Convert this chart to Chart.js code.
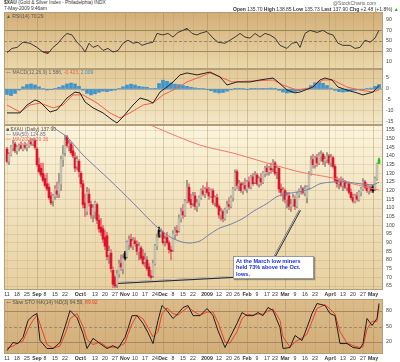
<!DOCTYPE html>
<html>
<head>
<meta charset="utf-8">
<script src="https://cdn.jsdelivr.net/npm/chart.js@4.4.1/dist/chart.umd.min.js"></script>
<style>
body { margin: 0; width: 400px; height: 362px; background: #fff; position: relative; overflow: hidden; font-family: "Liberation Sans", Arial, sans-serif; }
canvas { position: absolute; left: 0; }
.t { position: absolute; font-size: 5px; color: #333; white-space: nowrap; line-height: 1; z-index: 2; }
.note { position: absolute; left: 233px; top: 256px; width: 75px; height: 19px; background: #fff; border: 1px solid #9a9a9a; box-shadow: 1px 1px 1px rgba(0,0,0,0.35); color: #1b2fd6; font-weight: bold; font-size: 5.6px; line-height: 6.4px; padding: 1px 2px; box-sizing: content-box; z-index: 3; }
</style>
</head>
<body>
<div class="t" style="left:4px;top:1px;font-size:4.8px"><b>$XAU</b> (Gold &amp; Silver Index - Philadelphia) INDX</div>
<div class="t" style="left:4px;top:7px;font-size:4.8px">7-May-2009 9:46am</div>
<div class="t" style="left:333px;top:1px;color:#666">@StockCharts.com</div>
<div class="t" style="left:233px;top:7px"><b>Open</b> 135.70 <b>High</b> 138.85 <b>Low</b> 135.73 <b>Last</b> 137.90 <b>Chg</b> +2.48 (+1.8%) <span style="color:#2a2">&#9650;</span></div>

<canvas id="rsi" width="400" height="57" style="top:12px"></canvas>
<canvas id="macd" width="400" height="56" style="top:69px"></canvas>
<canvas id="price" width="400" height="174" style="top:125px"></canvas>
<canvas id="sto" width="400" height="63" style="top:299px"></canvas>

<div class="t" style="left:6px;top:14px;color:#555"><span style="color:#2a7a2a">&#9650;</span> RSI(14) 70.29</div>
<div class="t" style="left:6px;top:70px;color:#666">&#8212; MACD(12,26,9) 1.586, <span style="color:#e8604c">-0.423,</span> <span style="color:#3d8cc4">2.009</span></div>
<div class="t" style="left:6px;top:127px;color:#555">&#9632; $XAU (Daily) 137.90</div>
<div class="t" style="left:6px;top:132px;color:#6a76a8">&#8212; MA(50) 124.85</div>
<div class="t" style="left:6px;top:137px;color:#f06a5a">&#8212; MA(200) 120.36</div>
<div class="t" style="left:6px;top:300px;color:#555">&#8212; Slow STO %K(14) %D(3) 94.59, <span style="color:#e8402a">89.92</span></div>

<div class="note">At the March low miners<br>held 73% above the Oct.<br>lows.</div>

<script>
// weekly ticks, as trading-day index from 11-Aug-2008
var tickDays = [0, 5, 10, 15, 19, 24, 29, 36, 39, 44, 49, 54, 59, 64, 69, 74, 78, 83, 88, 93,
    100, 106, 111, 115, 120, 125, 130, 134, 139, 144, 149, 154, 161, 164, 168, 173, 178, 183];
var tickLabels = ['11', '18', '25', 'Sep', '8', '15', '22', 'Oct', '6', '13', '20', '27', 'Nov', '10', '17', '24', 'Dec', '8', '15', '22',
    '2009', '12', '20', '26', 'Feb', '9', '17', '23', 'Mar', '9', '16', '23', 'Apr', '6', '13', '20', '27', 'May'];

// daily candles, one per trading day
var opens = [144, 137, 141, 145, 147, 143, 145, 146, 144, 146, 145, 146, 148, 147, 149, 144, 135, 133, 130, 127,
    124, 122, 117, 114, 117, 120, 118, 124, 138, 142, 151, 146, 147, 143, 139, 134, 137, 130, 124, 113,
    108, 118, 112, 106, 108, 112, 103, 99, 98, 93, 94, 83, 84, 74, 70, 66, 72, 78, 75, 84,
    82, 89, 92, 88, 91, 89, 85, 87, 82, 79, 80, 76, 71, 71, 78, 88, 97, 95, 96, 91,
    93, 90, 86, 86, 95, 97, 97, 104, 108, 106, 114, 122, 115, 113, 117, 111, 113, 116, 120, 118,
    121, 119, 117, 120, 113, 116, 111, 106, 108, 104, 109, 112, 111, 116, 121, 131, 123, 124, 120, 123,
    121, 125, 122, 128, 125, 129, 124, 127, 125, 130, 133, 131, 133, 133, 136, 131, 133, 121, 119, 120,
    115, 117, 111, 112, 115, 111, 118, 120, 121, 119, 116, 122, 130, 138, 135, 139, 136, 140, 141, 137,
    138, 140, 136, 139, 134, 126, 124, 125, 123, 125, 122, 124, 119, 116, 114, 117, 115, 119, 121, 125,
    122, 120, 122, 122, 121, 127, 135.7];
var highs = [145, 142, 146, 149, 148, 146, 147, 148, 147, 148, 147, 149, 150, 150, 150, 145, 139, 136, 136, 129,
    130, 124, 119, 118, 123, 125, 130, 140, 146, 152, 152, 149, 148, 146, 142, 140, 138, 131, 126, 118,
    122, 121, 114, 112, 114, 113, 106, 104, 100, 97, 96, 88, 86, 76, 71, 74, 80, 83, 83, 85,
    91, 94, 95, 93, 93, 91, 90, 88, 86, 84, 82, 78, 74, 80, 89, 95, 99, 98, 97, 94,
    96, 91, 88, 97, 99, 100, 106, 110, 112, 115, 126, 124, 118, 119, 119, 115, 117, 121, 123, 122,
    125, 122, 121, 121, 117, 118, 112, 110, 109, 110, 114, 116, 117, 122, 132, 132, 126, 125, 125, 127,
    126, 128, 129, 130, 131, 130, 128, 130, 131, 134, 135, 134, 136, 138, 137, 134, 133, 124, 122, 121,
    119, 119, 115, 118, 117, 119, 121, 123, 122, 123, 123, 131, 140, 141, 140, 141, 142, 143, 142, 140,
    142, 141, 141, 140, 135, 128, 127, 128, 127, 126, 125, 125, 121, 118, 118, 119, 120, 122, 127, 126,
    124, 123, 123, 123, 128, 136, 138.85];
var lows = [136, 135, 140, 143, 142, 141, 143, 144, 143, 144, 143, 145, 146, 146, 144, 134, 130, 128, 125, 122,
    120, 115, 112, 111, 115, 116, 116, 120, 134, 140, 145, 143, 141, 139, 131, 132, 128, 122, 110, 105,
    106, 111, 104, 102, 104, 101, 96, 94, 90, 86, 80, 78, 73, 64, 64, 64, 70, 74, 72, 80,
    81, 86, 87, 86, 88, 83, 80, 80, 77, 76, 74, 70, 69, 70, 77, 86, 93, 93, 89, 88,
    89, 84, 80, 85, 92, 94, 96, 102, 104, 105, 113, 113, 110, 111, 109, 108, 111, 115, 117, 116,
    118, 115, 116, 112, 111, 110, 104, 103, 102, 103, 107, 109, 110, 114, 120, 121, 120, 119, 118, 120,
    119, 121, 121, 123, 124, 123, 122, 123, 124, 128, 129, 129, 130, 131, 129, 127, 119, 117, 114, 113,
    110, 109, 108, 111, 109, 110, 116, 118, 118, 117, 113, 121, 129, 133, 133, 134, 135, 137, 135, 134,
    136, 135, 134, 133, 125, 122, 121, 122, 120, 121, 120, 118, 115, 113, 113, 114, 114, 117, 120, 121,
    119, 118, 119, 119, 120, 126, 135.7];
var closes = [137, 141, 145, 147, 143, 145, 146, 144.5, 146.5, 145, 146, 148, 147, 149, 145, 135, 131, 129, 126, 123,
    121, 116, 113, 117, 121, 118, 124, 138, 141, 149, 146, 147, 142, 140, 133, 138, 131, 124, 112, 110,
    119, 113, 106, 110, 113, 103, 98, 96, 92, 88, 82, 85, 75, 66, 65, 72, 78, 76, 81, 81,
    90, 92, 88, 91, 89.5, 85, 88, 81, 78, 80, 75, 71, 70, 78, 88, 93, 95, 96, 90, 92,
    90, 86, 85, 95, 97, 96, 104, 108, 106, 114, 122, 114, 112, 117, 111, 113, 116, 120, 118, 121,
    119, 117, 120, 113, 116, 111, 106, 108, 104, 109, 112, 111, 116, 121, 130, 123, 124, 120, 123, 121,
    125, 122, 128, 124, 129, 124, 127, 125, 130, 133, 131, 133, 132, 136, 130, 133, 121, 119, 120, 115,
    117, 111, 112, 116, 111, 118, 120, 121, 119, 121, 122, 130, 138, 135, 139, 136, 140, 141, 137, 138,
    140, 136, 139, 134, 126, 124, 125, 123, 125, 122, 124, 119, 116, 114, 117, 115, 119, 121, 125, 122,
    120, 122, 120, 120, 127, 135.42, 137.9];

// moving averages (day, value)
var ma50Days = [20, 25, 30, 38, 51.5, 63, 75, 81.5, 87.5, 91.5, 96.5, 101.5, 106.5, 111.5, 118, 123, 130, 135, 140, 146.5, 151.5, 156.5, 163, 170, 176.5, 183, 186];
var ma50Vals = [160, 155, 151, 140.6, 126, 113, 99, 93.3, 90.4, 89.8, 91, 95, 98.5, 100.5, 104, 108, 112.6, 116.6, 118.3, 119.5, 121, 124, 125, 125, 124, 123.5, 124.85];
var ma200Days = [68, 74, 96.5, 113, 130, 146.5, 163, 171.5, 180, 186];
var ma200Vals = [160, 156.7, 146.3, 141.7, 136, 130.8, 127.3, 124.4, 122, 120.36];

var rsiDays = [0, 2.5, 5, 8, 11.5, 15, 18, 20.5, 23, 25.5, 28, 30, 32.5, 35, 37.5, 39, 41, 43, 45.5, 48, 50.5, 53, 55.5, 58, 60.5, 63, 65.5, 67.5, 70.5, 73,
    75, 78, 80.5, 83, 85.5, 88, 90, 92.5, 95, 96.5, 100, 103, 105.5, 109, 111.5, 114, 116.5, 119, 121.5, 124, 126.5, 129, 131.5, 134, 136.5, 140, 142.5, 145, 146.5, 149,
    151.5, 155, 158, 160.5, 163, 165.5, 168, 171.5, 174, 176.5, 179, 181.5, 184, 186];
var rsiVals = [27, 35, 37, 47, 45, 37, 28, 25, 37, 45, 57, 64, 61, 47, 37, 28, 45, 37, 41, 31, 35, 28, 31, 45, 51, 45, 47, 41, 45, 47,
    64, 61, 64, 57, 66, 70, 74, 64, 61, 64, 68, 55, 47, 45, 51, 57, 64, 57, 55, 64, 57, 64, 61, 55, 41, 35, 45, 47, 37, 64,
    70, 66, 70, 64, 61, 45, 41, 41, 35, 37, 51, 47, 55, 70.29];

var macdDays = [0, 6.5, 10, 14, 16.5, 21.5, 25, 30, 34, 36.5, 39, 43, 48, 52.5, 55, 58, 63, 66.5, 70, 73, 76.5, 80, 83, 86.5, 90, 95, 101.5, 106.5, 110, 115,
    121.5, 126.5, 133, 135.5, 140, 144, 146.5, 153, 156.5, 159, 162.5, 165.5, 170, 175, 178, 183, 186];
var macdVals = [-10.9, -10.9, -7.3, -5, -5.9, -10.5, -9.5, -4.1, -1.4, -1.8, -5.9, -8.6, -10.9, -14, -15.5, -12.7, -7.3, -4.1, -5, -6.4, -1.4, 0.9, 3.2, 6.4, 7.3, 6.4, 7.7, 5.5, 1.8, 3.2,
    3.2, 4.1, 5, 3.2, -0.5, -1.8, -1.4, 0.9, 4.1, 5, 4.1, 0.9, -0.5, -1.8, -2.7, -1.4, 1.586];
var signalDays = [0, 6.5, 11.5, 16.5, 23, 28, 33, 38, 45, 51.5, 56.5, 61.5, 68, 73, 78, 83, 90, 96.5, 101.5, 106.5, 112.5, 121.5, 133, 138, 145, 151.5, 158, 163, 170, 176.5, 183, 186];
var signalVals = [-7.3, -10.5, -7.3, -6.4, -8.6, -7.3, -2.7, -2.7, -6.4, -10.9, -13.2, -10.9, -7.3, -6.4, -2.7, -0.5, 3.2, 5.5, 7.3, 5.5, 3.2, 3.6, 4.1, 1.8, -0.5, 0.5, 4.1, 4.1, 0.9, -0.5, -1.4, -0.423];
var histDays = [0, 2, 4, 6, 8, 10, 12, 14, 16, 18, 20, 22, 24, 26, 28, 30, 32, 34, 36, 38, 40, 42, 44, 46, 48, 50, 52, 54, 56, 58,
    60, 62, 64, 66, 68, 70, 72, 74, 76, 78, 80, 82, 84, 86, 88, 90, 92, 94, 96, 98, 100, 102, 104, 106, 108, 110, 112, 114, 116, 118,
    120, 122, 124, 126, 128, 130, 132, 134, 136, 138, 140, 142, 144, 146, 148, 150, 152, 154, 156, 158, 160, 162, 164, 166, 168, 170, 172, 174, 176, 178,
    180, 182, 184, 186];
var histVals = [-2.5, -3, -2, -0.5, 1, 2, 2.3, 1.8, 1, 0.2, -0.5, -0.3, 0.3, 0.8, 1.5, 2.3, 2.7, 2.3, 1.2, -0.5, -2, -2.7, -2.2, -1.5, -1, -1.2, -0.8, -0.5, 0.2, 1,
    1.8, 2.2, 1.8, 1.2, 0.9, 0.8, 0.2, 0.3, 2.5, 4, 3.5, 2.8, 2.2, 2, 1.6, 1.2, 0.8, 0.5, 0.3, 0.2, -0.2, -0.8, -1.5, -1.8, -1.6, -1, -0.4, 0.1, 0.3, 0.2,
    -0.2, 0.1, 0.3, 0.2, 0.1, 0.3, 0.4, 0.1, -0.6, -1.4, -1.8, -1.6, -1.2, -0.8, -0.5, 0.2, 1.5, 2.8, 3.2, 2.6, 1.6, 0.4, -0.6, -1.2, -1.4, -1.2, -0.9, -0.6, -0.3, -0.2,
    0.2, 0.4, 1.2, 2.009];

var stoDays = [0, 3, 5.5, 8, 10.5, 13, 15, 16.5, 20, 23, 26.5, 30, 31.5, 35, 38, 40, 43, 46.5, 50, 53, 55.5, 59, 60.5, 62.5, 65, 68, 70.5, 73, 75.5, 77.5,
    80, 83, 85.5, 88, 90.5, 93, 96.5, 100, 103, 105.5, 109, 111.5, 115, 117.5, 120, 123, 125.5, 128, 130.5, 133, 136.5, 138, 141.5, 144, 147.5, 150, 152.5, 155, 159, 161.5,
    164, 166.5, 170, 173, 176.5, 178, 180, 182.5, 185, 186];
var stoK = [3.6, 19, 17, 29, 61.6, 71, 75, 23, 7.4, 7.4, 19, 61.6, 81, 67, 36.5, 7.4, 27, 17, 7.4, 13, 7.4, 29, 46, 71, 71, 56, 38, 17, 61.6, 90.6,
    81, 65.5, 75, 86.7, 90.6, 71, 71, 84.8, 71, 42, 9.4, 29, 56, 77, 71, 71, 77, 71, 86.7, 81, 48, 7.4, 9.4, 32.6, 23, 48, 75, 94.5, 90.6, 75,
    71, 17, 17, 9.4, 7.4, 17, 65.5, 52, 65.5, 94.59];
var stoD = [8, 12, 18, 22, 45, 62, 72, 55, 15, 8, 12, 45, 65, 75, 50, 25, 15, 20, 10, 10, 10, 18, 35, 55, 72, 65, 48, 30, 40, 75,
    86, 75, 72, 80, 88, 80, 72, 78, 78, 58, 20, 18, 40, 65, 74, 72, 74, 74, 80, 84, 62, 30, 10, 20, 28, 35, 60, 85, 92, 84,
    74, 40, 18, 13, 9, 11, 45, 60, 60, 89.92];

var rsiTicks = [10, 30, 50, 70, 90];
var macdTicks = [5, 0, -5, -10, -15];
var priceTicks = [65, 70, 75, 80, 85, 90, 95, 100, 105, 110, 115, 120, 125, 130, 135, 140, 145, 150, 155];
var stoTicks = [20, 50, 80];

// annotation leader lines (day, price)
var noteLineOct = [[55.5, 66.7], [113, 70.2]];
var noteLineMar = [[134, 82.3], [146.5, 108.8]];

function pts(days, vals) {
    return vals.map(function (v, i) { return {x: days[i], y: v}; });
}

function isMonthTick(i) {
    return isNaN(Number(tickLabels[i])) || tickLabels[i] === '2009';
}

var panelPlugin = {
    id: 'panel',
    beforeDraw: function (chart, args, opts) {
        var a = chart.chartArea, ctx = chart.ctx;
        var g = ctx.createLinearGradient(0, a.top, 0, a.bottom);
        g.addColorStop(0, opts.top);
        g.addColorStop(1, opts.bottom);
        ctx.save();
        ctx.fillStyle = g;
        ctx.fillRect(a.left, a.top, a.right - a.left, a.bottom - a.top);
        ctx.restore();
    },
    beforeDatasetsDraw: function (chart, args, opts) {
        var a = chart.chartArea, ctx = chart.ctx, y = chart.scales.y;
        (opts.lines || []).forEach(function (l) {
            var py = Math.round(y.getPixelForValue(l.v)) + 0.5;
            ctx.save();
            ctx.strokeStyle = l.color;
            ctx.lineWidth = 1;
            ctx.setLineDash(l.dash || []);
            ctx.beginPath();
            ctx.moveTo(a.left, py);
            ctx.lineTo(a.right, py);
            ctx.stroke();
            ctx.restore();
        });
    },
    afterDraw: function (chart) {
        var a = chart.chartArea, ctx = chart.ctx;
        ctx.save();
        ctx.strokeStyle = '#b39e78';
        ctx.lineWidth = 1;
        ctx.strokeRect(a.left + 0.5, a.top + 0.5, a.right - a.left - 1, a.bottom - a.top - 1);
        ctx.restore();
    }
};

var notePlugin = {
    id: 'noteLines',
    afterDatasetsDraw: function (chart) {
        var ctx = chart.ctx, sx = chart.scales.x, sy = chart.scales.y;
        [noteLineOct, noteLineMar].forEach(function (ln) {
            var x1 = sx.getPixelForValue(ln[0][0]), y1 = sy.getPixelForValue(ln[0][1]);
            var x2 = sx.getPixelForValue(ln[1][0]), y2 = sy.getPixelForValue(ln[1][1]);
            ctx.save();
            ctx.strokeStyle = '#2a2a2a';
            ctx.lineWidth = 2;
            ctx.beginPath(); ctx.moveTo(x1, y1); ctx.lineTo(x2, y2); ctx.stroke();
            ctx.strokeStyle = '#ffffff';
            ctx.lineWidth = 0.7;
            ctx.beginPath(); ctx.moveTo(x1, y1 - 0.6); ctx.lineTo(x2, y2 - 0.6); ctx.stroke();
            ctx.restore();
        });
    }
};

function xAxis(labelHeight) {
    return {
        type: 'linear', min: -1.5, max: 188, offset: false,
        grid: {
            offset: false, drawTicks: false,
            color: function (c) { return isMonthTick(c.index) ? 'rgba(150,115,60,0.32)' : 'rgba(150,115,60,0.13)'; }
        },
        border: {display: false},
        ticks: {
            display: labelHeight > 0, autoSkip: false, maxRotation: 0, minRotation: 0, padding: 1, color: '#333',
            font: function (c) { return {family: 'Liberation Sans', size: 5.2, weight: (c.tick && isMonthTick(c.index)) ? 'bold' : 'normal'}; },
            callback: function (v, i) { return tickLabels[i]; }
        },
        afterBuildTicks: function (s) { s.ticks = tickDays.map(function (d) { return {value: d}; }); },
        afterFit: function (s) { s.height = labelHeight; s.paddingLeft = 0; s.paddingRight = 0; }
    };
}

function yAxis(min, max, ticks, gridColor) {
    return {
        type: 'linear', position: 'right', min: min, max: max,
        grid: {drawTicks: false, color: gridColor},
        border: {display: false},
        ticks: {autoSkip: false, padding: 3, color: '#444', font: {family: 'Liberation Sans', size: 5.2}},
        afterBuildTicks: function (s) { s.ticks = ticks.map(function (v) { return {value: v}; }); },
        afterFit: function (s) { s.width = 17; s.paddingTop = 0; s.paddingBottom = 0; }
    };
}

function baseOptions(xa, ya, panel) {
    return {
        responsive: false, animation: false,
        layout: {padding: {left: 4, right: 0, top: 0, bottom: 0}},
        scales: {x: xa, y: ya},
        plugins: {legend: {display: false}, tooltip: {enabled: false}, panel: panel}
    };
}

function candleColor(i) {
    if (i === closes.length - 1) return '#1ec81e';
    var prev = i > 0 ? closes[i - 1] : opens[i];
    if (closes[i] < opens[i]) return closes[i] < prev ? '#e2122a' : '#111111';
    return closes[i] < prev ? '#eba4a8' : '#c2bfad';
}

function wickColor(i) {
    if (i === closes.length - 1) return '#1ec81e';
    var prev = i > 0 ? closes[i - 1] : opens[i];
    if (closes[i] < prev) return '#e4707c';
    return closes[i] < opens[i] ? '#111111' : '#8f8c7c';
}

// RSI
new Chart(document.getElementById('rsi'), {
    type: 'line',
    data: {
        datasets: [
            {data: pts(rsiDays, rsiVals), borderColor: '#3a3a3a', borderWidth: 1, pointRadius: 0,
                fill: {target: {value: 30}, above: 'rgba(0,0,0,0)', below: '#a5483a'}},
            {data: pts(rsiDays, rsiVals), borderWidth: 0, pointRadius: 0,
                fill: {target: {value: 70}, above: '#3e8e38', below: 'rgba(0,0,0,0)'}}
        ]
    },
    options: baseOptions(xAxis(0), yAxis(-4.8, 105.5, rsiTicks, 'rgba(0,0,0,0)'),
        {top: '#d3ae78', bottom: '#ead9ab', lines: [
            {v: 70, color: '#a88760'}, {v: 30, color: '#a88760'}, {v: 50, color: '#9c8a70', dash: [3, 2]}]}),
    plugins: [panelPlugin]
});

// MACD
new Chart(document.getElementById('macd'), {
    type: 'bar',
    data: {
        datasets: [
            {type: 'line', data: pts(macdDays, macdVals), borderColor: '#222', borderWidth: 1, pointRadius: 0, order: 0},
            {type: 'line', data: pts(signalDays, signalVals), borderColor: '#f0604a', borderWidth: 1, pointRadius: 0, order: 1},
            {data: pts(histDays, histVals), backgroundColor: '#3f95cc', barThickness: 3, grouped: false, order: 2}
        ]
    },
    options: baseOptions(xAxis(0), yAxis(-16.4, 9.1, macdTicks, 'rgba(150,115,60,0.15)'),
        {top: '#e2c998', bottom: '#f4e8c8', lines: [{v: 0, color: '#a9a9a9'}]}),
    plugins: [panelPlugin]
});

// price candles with moving averages
new Chart(document.getElementById('price'), {
    type: 'bar',
    data: {
        datasets: [
            {type: 'line', data: pts(ma50Days, ma50Vals), borderColor: '#7680ac', borderWidth: 1, pointRadius: 0, tension: 0.3, order: 0},
            {type: 'line', data: pts(ma200Days, ma200Vals), borderColor: '#f2786a', borderWidth: 1, pointRadius: 0, tension: 0.3, order: 1},
            {data: closes.map(function (c, i) { return {x: i, y: [opens[i], c]}; }),
                backgroundColor: function (c) { return candleColor(c.dataIndex); },
                barThickness: 2, minBarLength: 1, grouped: false, order: 2},
            {data: closes.map(function (c, i) { return {x: i, y: [lows[i], highs[i]]}; }),
                backgroundColor: function (c) { return wickColor(c.dataIndex); },
                barThickness: 1, grouped: false, order: 3}
        ]
    },
    options: baseOptions(xAxis(9), yAxis(62.7, 157.9, priceTicks, 'rgba(150,115,60,0.16)'),
        {top: '#fbf4dc', bottom: '#e7d0a0', lines: []}),
    plugins: [panelPlugin, notePlugin]
});

// slow stochastic
new Chart(document.getElementById('sto'), {
    type: 'line',
    data: {
        datasets: [
            {data: pts(stoDays, stoK), borderColor: '#1e1e1e', borderWidth: 1, pointRadius: 0},
            {data: pts(stoDays, stoD), borderColor: '#f0402a', borderWidth: 1, pointRadius: 0}
        ]
    },
    options: baseOptions(xAxis(8), yAxis(-3.2, 103.2, stoTicks, 'rgba(0,0,0,0)'),
        {top: '#dbbb89', bottom: '#d2ae79', lines: [
            {v: 80, color: '#a88760'}, {v: 20, color: '#a88760'}, {v: 50, color: '#9c8a70', dash: [3, 2]}]}),
    plugins: [panelPlugin]
});
</script>
</body>
</html>
